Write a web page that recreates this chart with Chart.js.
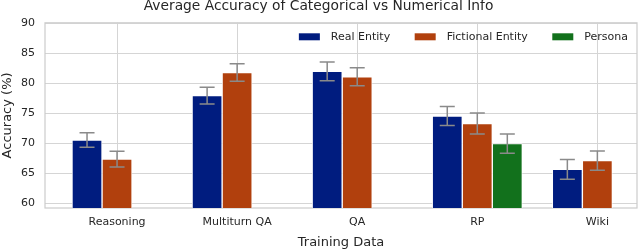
<!DOCTYPE html>
<html>
<head>
<meta charset="utf-8">
<script src="https://cdn.jsdelivr.net/npm/chart.js@4.4.0/dist/chart.umd.min.js"></script>
<style>
  html, body { margin: 0; padding: 0; background: #fff; }
  #wrap { width: 640px; height: 250px; }
</style>
</head>
<body>
<div id="wrap"><canvas id="myChart"></canvas></div>
<script>
var categories = ["Reasoning", "Multiturn QA", "QA", "RP", "Wiki"];
var realEntity = [70.55, 77.95, 82.0, 74.55, 65.65];
var realEntityErr = [1.2, 1.4, 1.55, 1.6, 1.65];
var fictionalEntity = [67.35, 81.8, 81.1, 73.3, 67.1];
var fictionalEntityErr = [1.3, 1.45, 1.5, 1.75, 1.6];
var persona = [null, null, null, 69.95, null];
var personaErr = [null, null, null, 1.6, null];
var yTicks = [60, 65, 70, 75, 80, 85, 90];

var textColor = "#262626";
var gridColor = "#d5d5d5";
var fontFamily = "'DejaVu Sans', sans-serif";

// place each series at its own offset around the category
function toPoints(values, shift) {
  var pts = [];
  for (var i = 0; i < values.length; i++) {
    if (values[i] !== null) pts.push({ x: i + shift, y: values[i] });
  }
  return pts;
}
function toErrors(errs) {
  return errs.filter(function (e) { return e !== null; });
}

// draws the whiskers on top of the bars
var errorBars = {
  id: "errorBars",
  afterDatasetsDraw: function (chart) {
    var ctx = chart.ctx;
    var yScale = chart.scales.y;
    ctx.save();
    ctx.strokeStyle = "#8a8a8a";
    ctx.lineWidth = 1.5;
    chart.data.datasets.forEach(function (ds, i) {
      var meta = chart.getDatasetMeta(i);
      meta.data.forEach(function (bar, j) {
        var v = ds.data[j].y;
        var e = ds.errors[j];
        var top = yScale.getPixelForValue(v + e);
        var bot = yScale.getPixelForValue(v - e);
        ctx.beginPath();
        ctx.moveTo(bar.x, top); ctx.lineTo(bar.x, bot);
        ctx.moveTo(bar.x - 7.5, top); ctx.lineTo(bar.x + 7.5, top);
        ctx.moveTo(bar.x - 7.5, bot); ctx.lineTo(bar.x + 7.5, bot);
        ctx.stroke();
      });
    });
    ctx.restore();
  }
};

// light frame all round the plot area
var frame = {
  id: "frame",
  beforeDatasetsDraw: function (chart) {
    var a = chart.chartArea;
    var ctx = chart.ctx;
    ctx.save();
    ctx.strokeStyle = "#cccccc";
    ctx.lineWidth = 1.2;
    ctx.strokeRect(a.left, a.top, a.right - a.left, a.bottom - a.top);
    ctx.restore();
  }
};

// one-row legend inside the plot, top right
var insideLegend = {
  id: "insideLegend",
  afterDraw: function (chart) {
    var ctx = chart.ctx;
    var a = chart.chartArea;
    var y = a.top + 14;
    var x = a.right - 9;
    ctx.save();
    ctx.font = "11px " + fontFamily;
    ctx.textBaseline = "middle";
    ctx.textAlign = "left";
    var sets = chart.data.datasets.slice().reverse();
    sets.forEach(function (ds) {
      var w = ctx.measureText(ds.label).width;
      x -= w;
      ctx.fillStyle = textColor;
      ctx.fillText(ds.label, x, y);
      x -= 11 + 21;
      ctx.fillStyle = ds.backgroundColor;
      ctx.fillRect(x, y - 3.5, 21, 7);
      x -= 24.5;
    });
    ctx.restore();
  }
};

function barSet(label, values, errs, shift, color) {
  return {
    type: "bar",
    label: label,
    data: toPoints(values, shift),
    errors: toErrors(errs),
    backgroundColor: color,
    borderColor: "rgba(255,255,255,0.8)",
    borderWidth: 1,
    borderSkipped: false,
    barThickness: 30,
    grouped: false
  };
}

var ctx = document.getElementById("myChart").getContext("2d");
var myChart = new Chart(ctx, {
  type: "bar",
  data: {
    datasets: [
      barSet("Real Entity", realEntity, realEntityErr, -0.25, "#001c7f"),
      barSet("Fictional Entity", fictionalEntity, fictionalEntityErr, 0, "#b1400d"),
      barSet("Persona", persona, personaErr, 0.25, "#12711c")
    ]
  },
  plugins: [frame, errorBars, insideLegend],
  options: {
    responsive: true,
    maintainAspectRatio: false,
    animation: false,
    layout: { padding: { left: 0, right: 3, top: 0, bottom: 0 } },
    plugins: {
      title: {
        display: true,
        text: "Average Accuracy of Categorical vs Numerical Info",
        color: textColor,
        font: { family: fontFamily, size: 13.8, weight: "normal", lineHeight: 1.0 },
        padding: { top: 0, bottom: 9 }
      },
      legend: { display: false },
      tooltip: { enabled: false }
    },
    scales: {
      x: {
        type: "linear",
        min: -0.6,
        max: 4.33,
        offset: false,
        afterBuildTicks: function (scale) {
          scale.ticks = categories.map(function (c, i) { return { value: i }; });
        },
        afterFit: function (scale) { scale.height = 42; },
        ticks: {
          color: textColor,
          font: { family: fontFamily, size: 11 },
          padding: 8,
          autoSkip: false,
          maxRotation: 0,
          callback: function (value) { return categories[value]; }
        },
        grid: { color: gridColor, drawTicks: false, offset: false },
        border: { display: false },
        title: {
          display: true,
          text: "Training Data",
          color: textColor,
          font: { family: fontFamily, size: 13 },
          padding: { top: 3, bottom: 0 }
        }
      },
      y: {
        min: 59.2,
        max: 90.1,
        afterBuildTicks: function (scale) {
          scale.ticks = yTicks.map(function (t) { return { value: t }; });
        },
        afterFit: function (scale) { scale.width = 45; },
        ticks: {
          color: textColor,
          font: { family: fontFamily, size: 11 },
          padding: 10
        },
        grid: { color: gridColor, drawTicks: false },
        border: { display: false },
        title: {
          display: true,
          text: "Accuracy (%)",
          color: textColor,
          font: { family: fontFamily, size: 13 },
          padding: { top: 0, bottom: 0 }
        }
      }
    }
  }
});
</script>
</body>
</html>
